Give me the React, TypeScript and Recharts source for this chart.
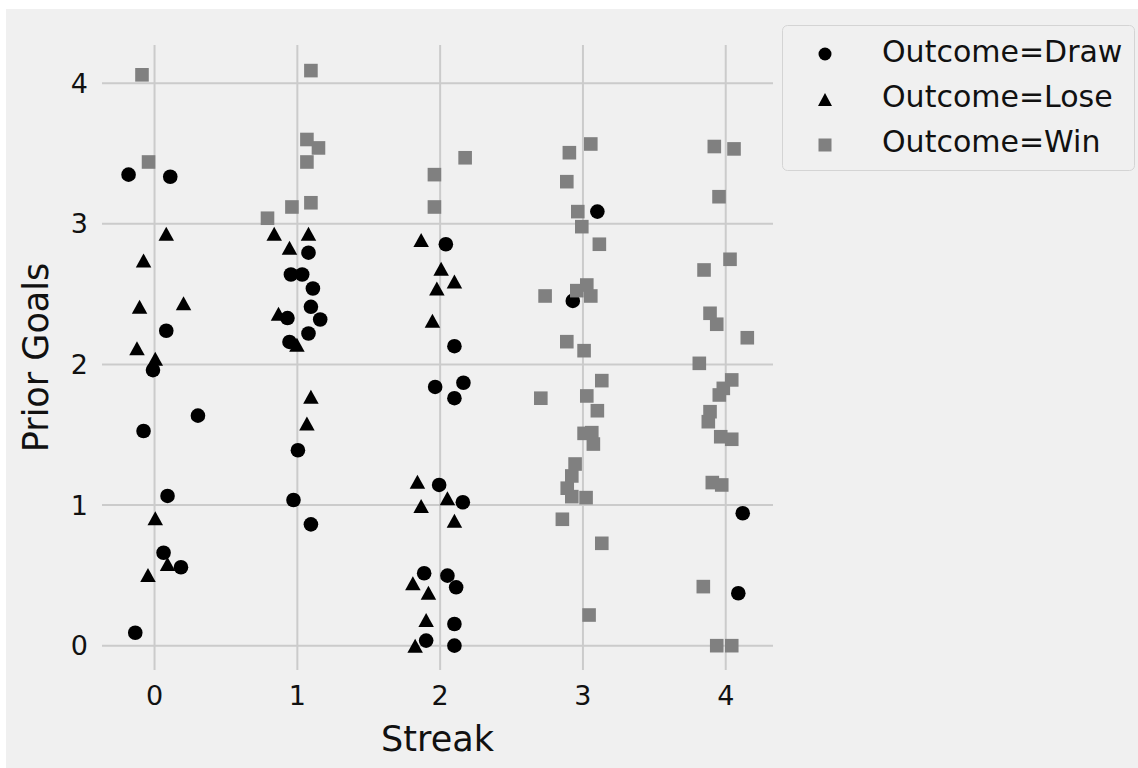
import React from 'react';
import { ScatterChart, Scatter, XAxis, YAxis, CartesianGrid, Legend, Label } from 'recharts';

// Jittered streak / prior-goal pairs, one pair of arrays per outcome
const drawStreak = [
  -0.182, 0.11, 0.082, -0.011, 0.304, -0.077, 0.091, 0.063, 0.185, -0.135,
  1.078, 0.955, 1.034, 1.109, 1.095, 1.16, 0.931, 1.078, 0.945, 1.004, 0.973, 1.095,
  2.04, 2.1, 1.965, 2.163, 2.1, 1.993, 2.159, 1.888, 2.051, 2.112, 2.1, 1.902, 2.1,
  3.101, 2.929,
  4.119, 4.088,
];
const drawGoals = [
  3.35, 3.335, 2.24, 1.96, 1.636, 1.527, 1.065, 0.661, 0.558, 0.092,
  2.795, 2.64, 2.64, 2.54, 2.41, 2.32, 2.33, 2.22, 2.16, 1.39, 1.036, 0.863,
  2.855, 2.13, 1.84, 1.87, 1.76, 1.143, 1.02, 0.515, 0.498, 0.415, 0.154, 0.036, 0.0,
  3.087, 2.452,
  0.942, 0.373,
];

const loseStreak = [
  0.082, -0.077, -0.105, 0.203, -0.123, 0.005, 0.005, 0.091, -0.046,
  0.838, 1.078, 0.945, 0.868, 0.997, 1.095, 1.067,
  1.867, 2.007, 2.1, 1.977, 1.946, 1.841, 2.051, 1.867, 2.1, 1.809, 1.918, 1.902, 1.825,
];
const loseGoals = [
  2.93, 2.74, 2.41, 2.435, 2.115, 2.04, 0.906, 0.58, 0.503,
  2.93, 2.93, 2.83, 2.36, 2.14, 1.77, 1.58,
  2.885, 2.68, 2.59, 2.54, 2.31, 1.166, 1.048, 0.994, 0.889, 0.444, 0.377, 0.183, 0.0,
];

const winStreak = [
  -0.088, -0.042,
  1.095, 1.067, 1.148, 1.067, 0.962, 1.095, 0.791,
  2.175, 1.96, 1.96,
  3.055, 2.905, 2.887, 2.964, 2.992, 3.115, 2.735, 2.957, 3.027, 3.055, 2.887, 3.008,
  3.132, 2.705, 3.027, 3.101, 3.008, 3.062, 3.073, 2.945, 2.922, 2.89, 2.922, 3.022,
  2.856, 3.132, 3.043,
  3.92, 4.058, 3.953, 4.03, 3.848, 3.89, 3.937, 4.151, 3.815, 4.042, 3.983, 3.955,
  3.89, 3.878, 3.965, 4.042, 3.906, 3.972, 3.843, 3.937, 4.042,
];
const winGoals = [
  4.06, 3.44,
  4.09, 3.6, 3.54, 3.44, 3.12, 3.15, 3.04,
  3.47, 3.35, 3.12,
  3.568, 3.506, 3.3, 3.087, 2.98, 2.855, 2.487, 2.525, 2.565, 2.487, 2.162, 2.098,
  1.885, 1.76, 1.776, 1.671, 1.51, 1.515, 1.434, 1.292, 1.207, 1.12, 1.06, 1.053,
  0.899, 0.728, 0.218,
  3.55, 3.533, 3.193, 2.748, 2.672, 2.364, 2.286, 2.19, 2.008, 1.89, 1.83, 1.783,
  1.664, 1.593, 1.486, 1.468, 1.16, 1.143, 0.42, 0.0, 0.0,
];

const streakTicks = [0, 1, 2, 3, 4];
const goalTicks = [0, 1, 2, 3, 4];
const outcomeLabels = ['Outcome=Draw', 'Outcome=Lose', 'Outcome=Win'];

const pairUp = (xs: number[], ys: number[]) => xs.map((x, i) => ({ x, y: ys[i] }));
const drawData = pairUp(drawStreak, drawGoals);
const loseData = pairUp(loseStreak, loseGoals);
const winData = pairUp(winStreak, winGoals);

const FONT = "'DejaVu Sans', sans-serif";
const INK = '#111111';
const WIN_GREY = '#808080';
const LEGEND_W = 353;

const CircleMark = (p: any) => <circle cx={p.cx} cy={p.cy} r={7.3} fill="#000" />;
const TriangleMark = (p: any) => {
  const w = 15.5;
  const h = 14;
  const { cx, cy } = p;
  return (
    <path
      d={`M${cx},${cy - h / 2}L${cx + w / 2},${cy + h / 2}L${cx - w / 2},${cy + h / 2}Z`}
      fill="#000"
    />
  );
};
const SquareMark = (p: any) => (
  <rect x={p.cx - 6.8} y={p.cy - 6.8} width={13.6} height={13.6} fill={WIN_GREY} />
);

const OutcomeLegend = () => {
  const rows = [
    { label: outcomeLabels[0], kind: 'circle' },
    { label: outcomeLabels[1], kind: 'triangle' },
    { label: outcomeLabels[2], kind: 'square' },
  ];
  return (
    <svg width={LEGEND_W} height={146} style={{ display: 'block' }}>
      <rect x={0.5} y={0.5} width={352} height={145} rx={5} ry={5} fill="#f0f0f0" stroke="#d4d4d4" strokeWidth={1} />
      {rows.map((r, i) => {
        const my = 29 + i * 45.5;
        const mx = 43;
        let mark;
        if (r.kind === 'circle') mark = <circle cx={mx} cy={my} r={6.5} fill="#000" />;
        else if (r.kind === 'triangle')
          mark = <path d={`M${mx},${my - 6.5}L${mx + 7},${my + 6.5}L${mx - 7},${my + 6.5}Z`} fill="#000" />;
        else mark = <rect x={mx - 6.5} y={my - 6.5} width={13} height={13} fill={WIN_GREY} />;
        return (
          <g key={r.label}>
            {mark}
            <text x={100} y={36.5 + i * 45} fontSize={30} fontFamily={FONT} fill={INK}>
              {r.label}
            </text>
          </g>
        );
      })}
    </svg>
  );
};

export default function App() {
  return (
    <div
      style={{
        position: 'fixed',
        left: 0,
        top: 0,
        width: 1138,
        height: 768,
        background: '#ffffff',
        overflow: 'hidden',
        fontFamily: FONT,
      }}
    >
      <div style={{ position: 'absolute', left: 6, top: 9, right: 0, bottom: 0, background: '#f0f0f0' }} />
      <div style={{ position: 'absolute', left: 0, top: 0 }}>
        <ScatterChart
          width={1138}
          height={768}
          margin={{ top: 45, right: 365 - LEGEND_W, bottom: 0, left: 0 }}
          style={{ fontFamily: FONT }}
        >
          <CartesianGrid stroke="#cbcbcb" strokeWidth={2} syncWithTicks />
          <XAxis
            type="number"
            dataKey="x"
            domain={[-0.368, 4.331]}
            ticks={streakTicks}
            allowDataOverflow
            axisLine={false}
            tickLine={false}
            tickSize={0}
            tickMargin={16}
            height={98}
            tick={{ fontSize: 27, fill: INK, fontFamily: FONT }}
          >
            <Label value="Streak" position="insideBottom" offset={17} fontSize={35} fill={INK} fontFamily={FONT} />
          </XAxis>
          <YAxis
            type="number"
            dataKey="y"
            domain={[-0.173, 4.272]}
            ticks={goalTicks}
            allowDataOverflow
            axisLine={false}
            tickLine={false}
            tickSize={0}
            tickMargin={14}
            width={102}
            tick={{ fontSize: 27, fill: INK, fontFamily: FONT }}
          >
            <Label
              value="Prior Goals"
              position="insideLeft"
              angle={-90}
              offset={36}
              fontSize={35}
              fill={INK}
              fontFamily={FONT}
              style={{ textAnchor: 'middle' }}
            />
          </YAxis>
          <Legend
            layout="vertical"
            verticalAlign="top"
            align="right"
            content={<OutcomeLegend />}
            wrapperStyle={{ position: 'absolute', left: 782, top: 25, width: LEGEND_W, height: 146 }}
          />
          <Scatter name={outcomeLabels[0]} data={drawData} shape={CircleMark} isAnimationActive={false} />
          <Scatter name={outcomeLabels[1]} data={loseData} shape={TriangleMark} isAnimationActive={false} />
          <Scatter name={outcomeLabels[2]} data={winData} shape={SquareMark} isAnimationActive={false} />
        </ScatterChart>
      </div>
    </div>
  );
}
